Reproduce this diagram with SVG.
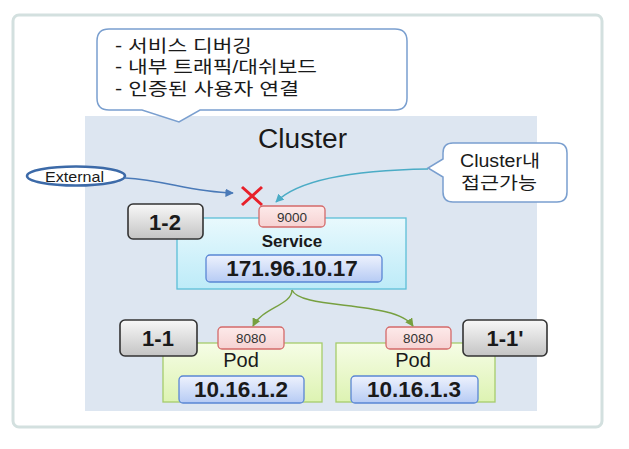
<svg xmlns="http://www.w3.org/2000/svg" width="629" height="449" viewBox="0 0 629 449">
<defs>
<linearGradient id="gLab" x1="0" y1="0" x2="0" y2="1"><stop offset="0" stop-color="#f8f8f8"/><stop offset="1" stop-color="#c4c4c4"/></linearGradient>
<linearGradient id="gSvc" x1="0" y1="0" x2="0" y2="1"><stop offset="0" stop-color="#e8f9fd"/><stop offset="1" stop-color="#bdebf8"/></linearGradient>
<linearGradient id="gIp" x1="0" y1="0" x2="0" y2="1"><stop offset="0" stop-color="#eef2fd"/><stop offset="1" stop-color="#b6cbf4"/></linearGradient>
<linearGradient id="gPod" x1="0" y1="0" x2="0" y2="1"><stop offset="0" stop-color="#f6fde6"/><stop offset="1" stop-color="#ddf3b2"/></linearGradient>
<linearGradient id="gPort" x1="0" y1="0" x2="0" y2="1"><stop offset="0" stop-color="#fdeaea"/><stop offset="1" stop-color="#f6d2d2"/></linearGradient>
<marker id="mBlue" viewBox="0 0 10 10" refX="9" refY="5" markerWidth="6" markerHeight="6" orient="auto"><path d="M0,0L10,5L0,10z" fill="#4a7ab8"/></marker>
<marker id="mCyan" viewBox="0 0 10 10" refX="9" refY="5" markerWidth="6" markerHeight="6" orient="auto"><path d="M0,0L10,5L0,10z" fill="#4bacc6"/></marker>
<marker id="mGreen" viewBox="0 0 10 10" refX="9" refY="5" markerWidth="6" markerHeight="6" orient="auto"><path d="M0,0L10,5L0,10z" fill="#77a040"/></marker>
</defs>
<style>
text{font-family:"Liberation Sans","Noto Sans CJK KR",sans-serif;fill:#1a1a1a}
.lab{fill:url(#gLab);stroke:#333;stroke-width:1.6}
.labt{font-size:22px;font-weight:bold;text-anchor:middle}
.port{fill:url(#gPort);stroke:#d46a6a;stroke-width:1.3}
.portt{font-size:13.5px;text-anchor:middle;fill:#333}
.ip{fill:url(#gIp);stroke:#5a86d4;stroke-width:1.3}
.ipt{font-size:22.5px;font-weight:bold;text-anchor:middle}
.pod{fill:url(#gPod);stroke:#a6cc6c;stroke-width:1.3}
.podt{font-size:20px;text-anchor:middle}
.call{fill:#fff;stroke:#7a9fcf;stroke-width:1.5}
.kr{font-size:17.5px}
</style>
<rect x="13" y="15" width="589" height="412" rx="6" fill="#fff" stroke="#d3e0df" stroke-width="3"/>
<g id="cluster">
<rect x="85" y="116" width="452" height="295" fill="#dde6f1"/>
<text x="258" y="148" font-size="27" textLength="89" lengthAdjust="spacingAndGlyphs" fill="#222">Cluster</text>
</g>
<g id="note-top">
<path class="call" d="M109,29H395Q407,29 407,41V98Q407,110 395,110H200L179,122L142,110H109Q97,110 97,98V41Q97,29 109,29Z"/>
<text class="kr" x="115" y="52" textLength="137" lengthAdjust="spacingAndGlyphs">- 서비스 디버깅</text>
<text class="kr" x="115" y="73" textLength="202" lengthAdjust="spacingAndGlyphs">- 내부 트래픽/대쉬보드</text>
<text class="kr" x="115" y="95" textLength="184" lengthAdjust="spacingAndGlyphs">- 인증된 사용자 연결</text>
</g>
<g id="note-right">
<path class="call" d="M453,143H557Q567,143 567,153V192Q567,202 557,202H453Q443,202 443,192V177L428,168L443,159V153Q443,143 453,143Z"/>
<text class="kr" x="460" y="167" textLength="80" lengthAdjust="spacingAndGlyphs">Cluster내</text>
<text class="kr" x="461" y="189" textLength="76" lengthAdjust="spacingAndGlyphs">접근가능</text>
</g>
<g id="external">
<ellipse cx="76" cy="176" rx="49" ry="9.5" fill="#fff" stroke="#3c6aa8" stroke-width="2.5"/>
<text x="45" y="181.5" font-size="15" textLength="59" lengthAdjust="spacingAndGlyphs" fill="#333">External</text>
</g>
<g id="blocked">
<path d="M242,187L262,205M262,187L242,205" stroke="#e8202a" stroke-width="3" fill="none"/>
</g>
<g id="service">
<rect x="177" y="218" width="229" height="71" fill="url(#gSvc)" stroke="#5cbfd8" stroke-width="1.3"/>
<rect class="port" x="259" y="206" width="66" height="21" rx="4"/>
<text class="portt" x="292" y="222">9000</text>
<text x="292" y="247" font-size="17" font-weight="bold" text-anchor="middle">Service</text>
<rect class="ip" x="206" y="255" width="176" height="27" rx="4"/>
<text class="ipt" x="292" y="276">171.96.10.17</text>
</g>
<g id="label-1-2">
<rect class="lab" x="128" y="204" width="75" height="35" rx="5"/>
<text class="labt" x="165" y="230">1-2</text>
</g>
<g id="pod1">
<rect class="pod" x="163" y="343" width="159" height="59"/>
<rect class="port" x="218" y="327" width="66" height="22" rx="4"/>
<text class="portt" x="251" y="343">8080</text>
<text class="podt" x="241" y="367">Pod</text>
<rect class="ip" x="179" y="376" width="125" height="27" rx="4"/>
<text class="ipt" x="241" y="397">10.16.1.2</text>
</g>
<g id="label-1-1">
<rect class="lab" x="120" y="320" width="77" height="36" rx="5"/>
<text class="labt" x="158" y="346">1-1</text>
</g>
<g id="pod2">
<rect class="pod" x="336" y="343" width="159" height="59"/>
<rect class="port" x="386" y="327" width="65" height="22" rx="4"/>
<text class="portt" x="418" y="343">8080</text>
<text class="podt" x="413" y="367">Pod</text>
<rect class="ip" x="351" y="376" width="127" height="27" rx="4"/>
<text class="ipt" x="414" y="397">10.16.1.3</text>
</g>
<g id="label-1-1p">
<rect class="lab" x="463" y="320" width="84" height="36" rx="5"/>
<text class="labt" x="505" y="346">1-1'</text>
</g>
<g id="connectors" fill="none" stroke-width="1.4">
<path d="M125,178C165,180 190,192 233,193" stroke="#4a7ab8" marker-end="url(#mBlue)"/>
<path d="M428,169C360,170 300,178 276,202" stroke="#4bacc6" marker-end="url(#mCyan)"/>
<path d="M292,290C292,305 262,308 253,326" stroke="#77a040" marker-end="url(#mGreen)"/>
<path d="M292,290C300,310 395,300 413,326" stroke="#77a040" marker-end="url(#mGreen)"/>
</g>
</svg>
